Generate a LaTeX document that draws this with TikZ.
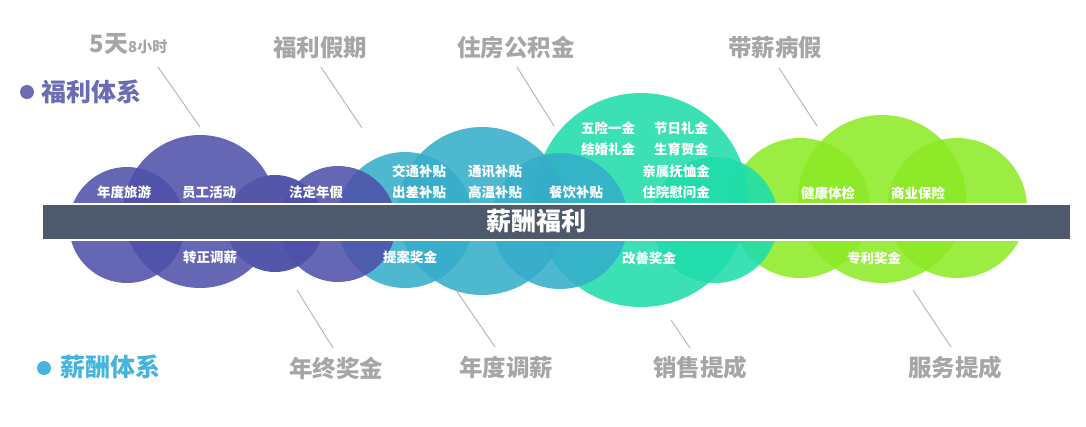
\documentclass[tikz,border=0pt]{standalone}
\usepackage{fontspec}
\setmainfont{Noto Sans CJK SC}
\usepackage{tikz}

\definecolor{viola}{RGB}{78,80,170}
\definecolor{violascuro}{RGB}{84,87,169}
\definecolor{azzurro}{RGB}{53,173,202}
\definecolor{acqua}{RGB}{30,220,170}
\definecolor{verde}{RGB}{140,234,38}
\definecolor{barra}{RGB}{78,90,107}
\definecolor{grigio}{RGB}{166,166,166}
\definecolor{linea}{RGB}{178,178,178}
\definecolor{titoloviola}{RGB}{108,108,180}
\definecolor{titoloblu}{RGB}{70,180,220}

\begin{document}
\begin{tikzpicture}[x=1pt, y=-1pt, every node/.style={inner sep=0pt, outer sep=0pt},
    bolla/.style={circle, fill=#1, fill opacity=0.87},
    voce/.style={text=white, font=\bfseries\fontsize{13.5}{16}\selectfont},
    titolo/.style={text=grigio, font=\bfseries\fontsize{23.5}{28}\selectfont},
    guida/.style={draw=linea, line width=0.9pt}]

        \useasboundingbox (0,0) rectangle (1086,426);

        % Bolle
        \node[bolla=verde, minimum size=140] (g1) at (800,208) {};
        \node[bolla=verde, minimum size=168] (g2) at (882,199) {};
        \node[bolla=verde, minimum size=140] (g3) at (957,208) {};
        \node[bolla=acqua, minimum size=214] (t1) at (641,200) {};
        \node[bolla=acqua, minimum size=126] (t2) at (715,220) {};
        \node[bolla=azzurro, minimum size=136] (b1) at (405,220) {};
        \node[bolla=azzurro, minimum size=168] (b2) at (482,211) {};
        \node[bolla=azzurro, minimum size=136] (b3) at (560,221) {};
        \node[bolla=viola, minimum size=116] (v1) at (127,225) {};
        \node[bolla=viola, minimum size=153] (v2) at (200,211.5) {};
        \node[bolla=violascuro, fill opacity=1, minimum size=97] (v3) at (275,223.5) {};
        \node[bolla=viola, minimum size=116] (v4) at (338,224) {};

        % Barra
        \node[fill=barra, draw=white, line width=2.4pt, minimum width=1029, minimum height=36.4] (bar) at (556.5,222) {};
        \node[text=white, font=\bfseries\fontsize{25}{30}\selectfont] (nome) at (536,221) {薪酬福利};

        % Voci
        \node[voce] (v1a) at (124,192) {年度旅游};
        \node[voce] (v2a) at (209,192) {员工活动};
        \node[voce] (v4a) at (316,192) {法定年假};
        \node[voce] (v2b) at (210,257) {转正调薪};
        \node[voce] (b1a) at (419,171) {交通补贴};
        \node[voce] (b1b) at (419,192) {出差补贴};
        \node[voce] (b2a) at (495,171) {通讯补贴};
        \node[voce] (b2b) at (495,192) {高温补贴};
        \node[voce] (b3a) at (576,192) {餐饮补贴};
        \node[voce] (b1c) at (410,257) {提案奖金};
        \node[voce] (t1a) at (608,128) {五险一金};
        \node[voce] (t1b) at (681,128) {节日礼金};
        \node[voce] (t1c) at (608,149) {结婚礼金};
        \node[voce] (t1d) at (681,149) {生育贺金};
        \node[voce] (t1e) at (676,171) {亲属抚恤金};
        \node[voce] (t1f) at (676,192) {住院慰问金};
        \node[voce] (t1g) at (649,258) {改善奖金};
        \node[voce] (g1a) at (828,193) {健康体检};
        \node[voce] (g3a) at (918,193) {商业保险};
        \node[voce] (g2a) at (874,258) {专利奖金};

        % Titoli
        \node[circle, fill=titoloviola, minimum size=14] (pv) at (27,92) {};
        \node[text=titoloviola, font=\bfseries\fontsize{25}{30}\selectfont] (fl) at (91,92) {福利体系};
        \node[circle, fill=titoloblu, minimum size=14] (pb) at (44,368) {};
        \node[text=titoloblu, font=\bfseries\fontsize{25}{30}\selectfont] (xc) at (110,367) {薪酬体系};

        \node[text=grigio, font=\bfseries\fontsize{24}{28}\selectfont] (n1) at (128.5,44) {5天{\fontsize{15}{18}\selectfont 8小时}};
        \node[titolo] (n2) at (320,48) {福利假期};
        \node[titolo] (n3) at (516,48) {住房公积金};
        \node[titolo] (n4) at (775,48) {带薪病假};
        \node[titolo] (n5) at (336,368) {年终奖金};
        \node[titolo] (n6) at (506,368) {年度调薪};
        \node[titolo] (n7) at (700,368) {销售提成};
        \node[titolo] (n8) at (955,368) {服务提成};

        % Estremi delle linee
        \coordinate (a1) at (158,67);
        \coordinate (e1) at (200,127);
        \coordinate (a2) at (321,67);
        \coordinate (e2) at (362,128);
        \coordinate (a3) at (517,67);
        \coordinate (e3) at (554,126);
        \coordinate (a4) at (779,68);
        \coordinate (e4) at (817,126);
        \coordinate (a5) at (333,348);
        \coordinate (e5) at (297,290);
        \coordinate (a6) at (495,347);
        \coordinate (e6) at (456,290);
        \coordinate (a7) at (690,348);
        \coordinate (e7) at (671,320);
        \coordinate (a8) at (951,347);
        \coordinate (e8) at (913,290);

        % Linee
        \draw[guida] (a1) -- (e1);
        \draw[guida] (a2) -- (e2);
        \draw[guida] (a3) -- (e3);
        \draw[guida] (a4) -- (e4);
        \draw[guida] (a5) -- (e5);
        \draw[guida] (a6) -- (e6);
        \draw[guida] (a7) -- (e7);
        \draw[guida] (a8) -- (e8);
    \end{tikzpicture}
\end{document}
